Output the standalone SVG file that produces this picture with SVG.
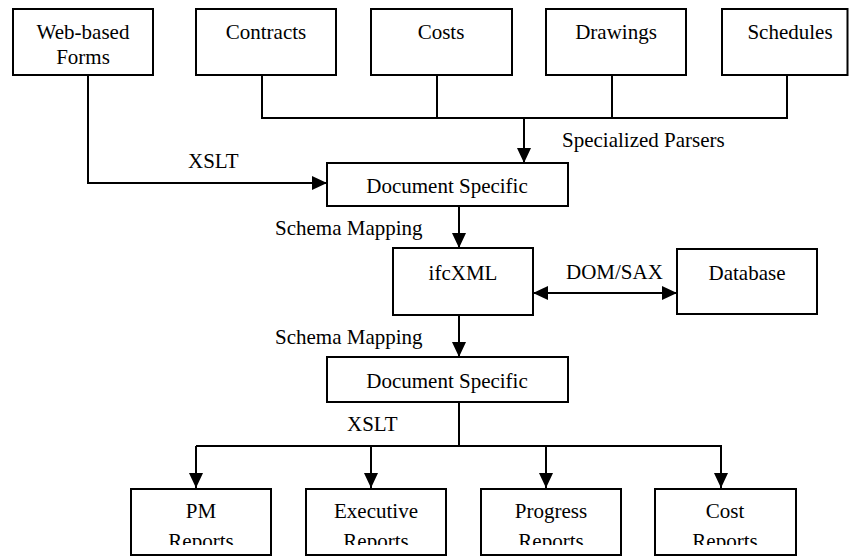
<svg xmlns="http://www.w3.org/2000/svg" width="849" height="557" viewBox="0 0 849 557" font-family="Liberation Serif, Tinos, DejaVu Serif, serif" font-size="21">
  <style>
    .box { fill: #fff; stroke: #000; stroke-width: 2; }
    .ln { fill: none; stroke: #000; stroke-width: 2; }
    .arr { marker-end: url(#head); }
    .bi { marker-start: url(#head); marker-end: url(#head); }
    text { fill: #000; }
    .c { text-anchor: middle; }
  </style>
  <defs>
    <marker id="head" viewBox="0 0 15 14" refX="15" refY="7" markerWidth="15" markerHeight="14" markerUnits="userSpaceOnUse" orient="auto-start-reverse">
      <path d="M0,0 L15,7 L0,14 z" fill="#000"/>
    </marker>
    <clipPath id="cut">
      <rect x="0" y="0" width="849" height="545"/>
    </clipPath>
  </defs>

  <rect width="849" height="557" fill="#fff"/>

  <!-- connectors -->
  <g id="connectors">
    <path class="ln" d="M262,75 V118 H787 V75"/>
    <path class="ln" d="M437,75 V118"/>
    <path class="ln" d="M612,75 V118"/>
    <path class="ln arr" d="M524,118 V163"/>
    <path class="ln arr" d="M88,75 V183 H327"/>
    <path class="ln arr" d="M459,206 V248"/>
    <path class="ln bi" d="M533,293 H677"/>
    <path class="ln arr" d="M459,315 V357"/>
    <path class="ln" d="M459,402 V446"/>
    <path class="ln arr" d="M196,446 H721 V488"/>
    <path class="ln arr" d="M196,446 V488"/>
    <path class="ln arr" d="M371,446 V488"/>
    <path class="ln arr" d="M546,446 V488"/>
    <text x="562" y="147">Specialized Parsers</text>
    <text x="188" y="168">XSLT</text>
    <text x="275" y="235">Schema Mapping</text>
    <text x="566" y="279">DOM/SAX</text>
    <text x="275" y="344">Schema Mapping</text>
    <text x="347" y="431">XSLT</text>
  </g>

  <!-- source documents -->
  <g id="web-forms">
    <rect class="box" x="13" y="9" width="140" height="66"/>
    <text class="c" x="83" y="39">Web-based</text>
    <text class="c" x="83" y="64">Forms</text>
  </g>
  <g id="contracts">
    <rect class="box" x="196" y="9" width="140" height="66"/>
    <text class="c" x="266" y="39">Contracts</text>
  </g>
  <g id="costs">
    <rect class="box" x="371" y="9" width="141" height="66"/>
    <text class="c" x="441" y="39">Costs</text>
  </g>
  <g id="drawings">
    <rect class="box" x="546" y="9" width="140" height="66"/>
    <text class="c" x="616" y="39">Drawings</text>
  </g>
  <g id="schedules">
    <rect class="box" x="722" y="9" width="125.5" height="66"/>
    <text class="c" x="790" y="39">Schedules</text>
  </g>

  <!-- intermediate representations -->
  <g id="doc-specific-in">
    <rect class="box" x="327" y="163" width="241" height="43"/>
    <text class="c" x="447" y="193">Document Specific</text>
  </g>
  <g id="ifcxml">
    <rect class="box" x="393" y="248" width="140" height="67"/>
    <text class="c" x="463" y="280">ifcXML</text>
  </g>
  <g id="database">
    <rect class="box" x="677" y="249" width="140" height="65"/>
    <text class="c" x="747" y="280">Database</text>
  </g>
  <g id="doc-specific-out">
    <rect class="box" x="327" y="357" width="241" height="45"/>
    <text class="c" x="447" y="388">Document Specific</text>
  </g>

  <!-- reports -->
  <g id="pm-reports">
    <rect class="box" x="131" y="489" width="140" height="66"/>
    <text class="c" x="201" y="518">PM</text>
    <text class="c" x="201" y="548" clip-path="url(#cut)">Reports</text>
  </g>
  <g id="executive-reports">
    <rect class="box" x="306" y="489" width="140" height="66"/>
    <text class="c" x="376" y="518">Executive</text>
    <text class="c" x="376" y="548" clip-path="url(#cut)">Reports</text>
  </g>
  <g id="progress-reports">
    <rect class="box" x="481" y="489" width="140" height="66"/>
    <text class="c" x="551" y="518">Progress</text>
    <text class="c" x="551" y="548" clip-path="url(#cut)">Reports</text>
  </g>
  <g id="cost-reports">
    <rect class="box" x="655" y="489" width="141" height="66"/>
    <text class="c" x="725" y="518">Cost</text>
    <text class="c" x="725" y="548" clip-path="url(#cut)">Reports</text>
  </g>
</svg>
